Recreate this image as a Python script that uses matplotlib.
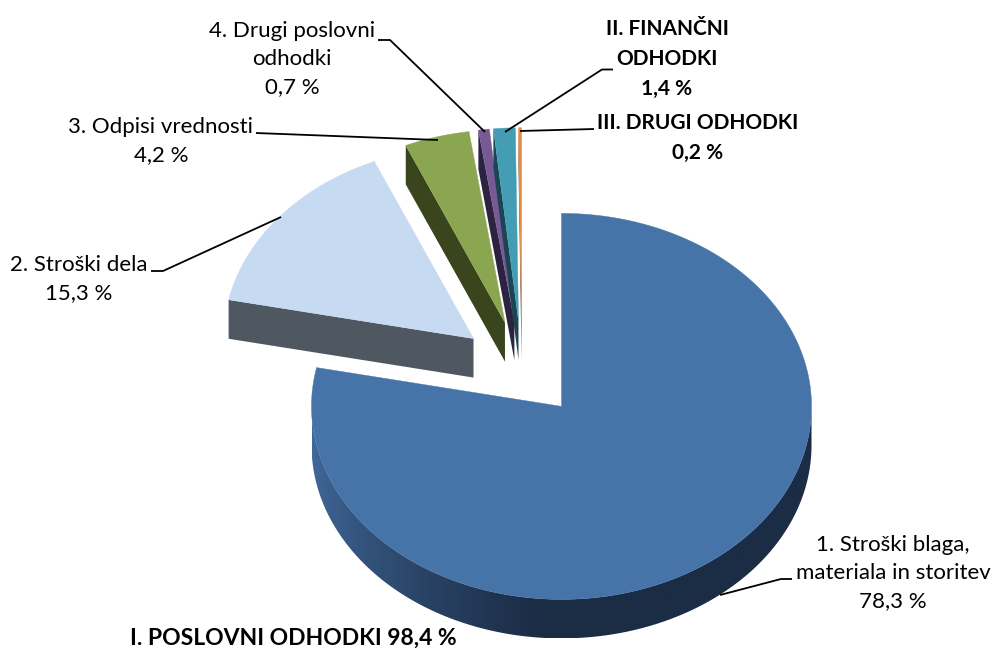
import numpy as np
import matplotlib
matplotlib.use("Agg")
import matplotlib.pyplot as plt
from matplotlib.colors import to_rgb
from matplotlib.patches import Polygon

plt.rcParams['font.family'] = ['Lato', 'DejaVu Sans']

# values in percent, clockwise from 12 o'clock
names = ["1. Stroški blaga,\nmateriala in storitev", "2. Stroški dela", "3. Odpisi vrednosti",
         "4. Drugi poslovni\nodhodki", "II. FINANČNI\nODHODKI", "III. DRUGI ODHODKI"]
values = [78.3, 15.3, 4.2, 0.7, 1.4, 0.2]
value_text = ["78,3 %", "15,3 %", "4,2 %", "0,7 %", "1,4 %", "0,2 %"]
top_colors = ["#4674A8", "#C6DAF2", "#8BA650", "#775A94", "#459DB5", "#E48B3E"]
side_colors = ["#1B2C45", "#4F5761", "#3A441D", "#2C2340", "#1B4552", "#6E3F1A"]
bold = [False, False, False, False, True, True]
label_pos = [(893, 573), (79, 279), (161, 141), (292, 59), (667, 59), (698, 138)]
leaders = [[(720, 595), (781, 579), (792, 579)],
           [(281, 217), (163, 271), (151, 271)],
           [(438, 140), (256, 133)],
           [(485, 132), (390, 40), (378, 40)],
           [(505, 132), (602, 69.5), (613, 69.5)],
           [(520, 131), (594, 129)]]
total_text = "I. POSLOVNI ODHODKI 98,4 %"

# pie geometry in image pixels
cx, cy = 522, 369
rx, ry = 250, 193
explode = 0.25
depth = 39

fig = plt.figure(figsize=(9.94, 6.48), dpi=100)
ax = fig.add_axes([0, 0, 1, 1])


def rim(x0, y0, t):
    return x0 + rx * np.sin(t), y0 - ry * np.cos(t)


edges = np.radians(np.cumsum([0] + values) / sum(values) * 360)

# back slices first, the big one last
for i in [1, 2, 3, 4, 5, 0]:
    a, b = edges[i], edges[i + 1]
    mid = (a + b) / 2
    x0 = cx + explode * rx * np.sin(mid)
    y0 = cy - explode * ry * np.cos(mid)
    t = np.linspace(a, b, max(int(np.degrees(b - a)), 4) + 1)
    xs, ys = rim(x0, y0, t)

    if i == 0:
        # front wall of the big slice with a left to right shade
        tf = np.radians(np.linspace(90, 270, 181))
        fx, fy = rim(x0, y0, tf)
        wall = Polygon(list(zip(fx, fy)) + list(zip(fx[::-1], fy[::-1] + depth)),
                       facecolor='none', edgecolor='none')
        ax.add_patch(wall)
        left, right = fx.min(), fx.max()
        grad_x = np.linspace(left, right, 512)
        f = np.clip((grad_x - left) / 225, 0, 1)[None, :, None] ** 0.7
        grad = np.array(to_rgb("#41699B")) + (np.array(to_rgb(side_colors[0])) - np.array(to_rgb("#41699B"))) * f
        im = ax.imshow(grad, extent=(left, right, fy.max() + depth, fy.min()), aspect='auto')
        im.set_clip_path(wall)
    else:
        # only the cut on the near side shows
        ax.add_patch(Polygon([(x0, y0), (xs[0], ys[0]), (xs[0], ys[0] + depth), (x0, y0 + depth)],
                             facecolor=side_colors[i], edgecolor='none'))
    pts = [(x0, y0)] + list(zip(xs, ys))
    ax.add_patch(Polygon(pts, facecolor=top_colors[i], edgecolor=top_colors[i], lw=0.3))

for line in leaders:
    ax.plot([p[0] for p in line], [p[1] for p in line], color='black', lw=1.3, solid_capstyle='butt')

for name, val, pos, b in zip(names, value_text, label_pos, bold):
    ax.text(pos[0], pos[1], name + "\n" + val, ha='center', va='center',
            fontsize=15 if b else 16, fontweight='bold' if b else 'normal',
            color='black', linespacing=1.62 if b else 1.53)

ax.text(293, 638.5, total_text, ha='center', va='center', fontsize=16.5, fontweight='bold', color='black')

ax.set_xlim(0, 994)
ax.set_ylim(648, 0)
ax.axis('off')

fig.savefig("out.png", dpi=100)
